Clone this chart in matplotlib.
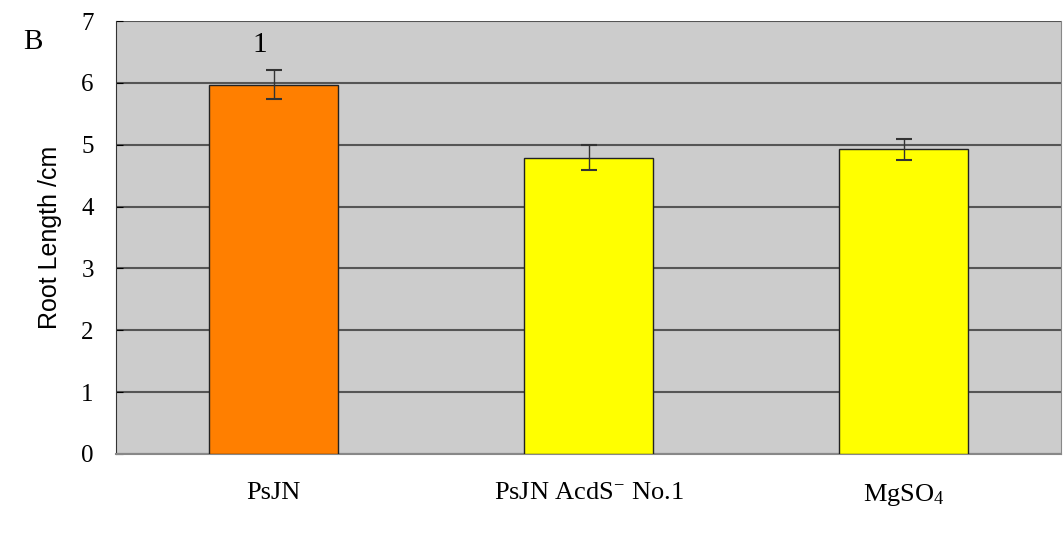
import matplotlib
matplotlib.use("Agg")
import matplotlib.pyplot as plt
import numpy as np

plt.rcParams["mathtext.fontset"] = "custom"
plt.rcParams["mathtext.rm"] = "Liberation Serif"
plt.rcParams["mathtext.it"] = "Liberation Serif:italic"
plt.rcParams["mathtext.default"] = "rm"

categories = ["PsJN", "PsJN AcdS$^{-}$ No.1", "MgSO$_4$"]
values = [5.97, 4.79, 4.93]
errors = [0.23, 0.20, 0.17]
colors = ["#FF7F00", "#FFFF00", "#FFFF00"]
yticks = [0, 1, 2, 3, 4, 5, 6, 7]

fig = plt.figure(figsize=(10.63, 5.39), dpi=100)
ax = fig.add_axes([116/1063, 1-454/539, (1061-116)/1063, (454-21)/539])
ax.set_facecolor("#CCCCCC")
x = np.arange(len(categories))
ax.bar(x, values, width=0.41, color=colors, edgecolor="#222222", linewidth=1.0, zorder=3)
ax.errorbar(x, values, yerr=errors, fmt="none", ecolor="#333333", elinewidth=1.0,
            capsize=6, capthick=1.5, zorder=4)
ax.set_xlim(-0.5, 2.5)
ax.set_ylim(0, 7)
ax.set_yticks(yticks)
ax.yaxis.grid(True, color="#555555", linewidth=1.5, zorder=1)
ax.set_axisbelow(True)
ax.spines["top"].set_visible(False)
ax.spines["right"].set_color("#888888")
ax.spines["left"].set_color("#333333")
ax.spines["bottom"].set_color("#888888")
ax.spines["bottom"].set_linewidth(1.5)
ax.tick_params(axis="y", direction="in", length=5, labelsize=18, pad=16)
ax.tick_params(axis="x", length=0, pad=20)
ax.set_xticks(x)
ax.set_xticklabels(categories, fontsize=19, family="Liberation Serif")
for lbl in ax.get_yticklabels():
    lbl.set_family("Liberation Serif")
ax.set_ylabel("Root Length /cm", fontsize=18, family="Liberation Sans", labelpad=14)
ax.text(-0.045, values[0] + errors[0] + 0.2, "1", ha="center", va="bottom",
        fontsize=21, family="Liberation Serif")
fig.text(23/1063, 1-42/539, "B", ha="left", va="center", fontsize=21, family="Liberation Serif")
fig.savefig("out.png", dpi=100)
